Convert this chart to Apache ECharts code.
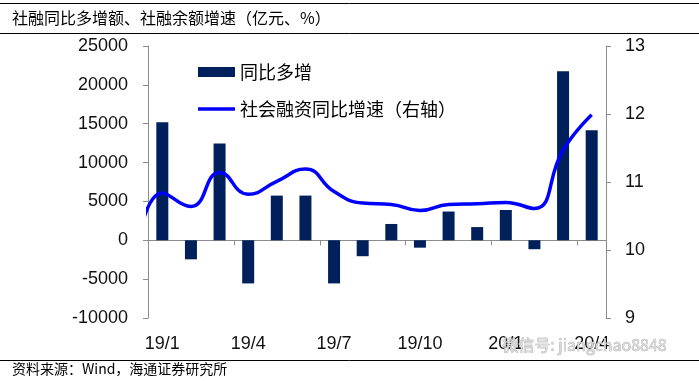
<!DOCTYPE html>
<html>
<head>
<meta charset="utf-8">
<script src="https://cdn.jsdelivr.net/npm/echarts@6/dist/echarts.min.js"></script>
<style>
html,body{margin:0;padding:0;background:#fff;}
#chart{width:699px;height:381px;}
</style>
</head>
<body>
<div id="chart"></div>
<script>
// ---- data ----
var categories = ['19/1','19/2','19/3','19/4','19/5','19/6','19/7','19/8','19/9','19/10','19/11','19/12','20/1','20/2','20/3','20/4'];
var barValues = [15200, -2450, 12450, -5550, 5750, 5750, -5550, -2050, 2100, -950, 3700, 1700, 3900, -1150, 21750, 14150];
// line categories include the (clipped) preceding month visible at the left edge
var lineCategories = ['18/12','19/1','19/2','19/3','19/4','19/5','19/6','19/7','19/8','19/9','19/10','19/11','19/12','20/1','20/2','20/3','20/4'];
var lineValues = [9.7, 10.84, 10.64, 11.14, 10.82, 11.01, 11.19, 10.86, 10.69, 10.67, 10.58, 10.67, 10.68, 10.70, 10.61, 11.47, 11.99];
var leftTicks = [-10000, -5000, 0, 5000, 10000, 15000, 20000, 25000];
var rightTicks = [9, 10, 11, 12, 13];
var titleText = '社融同比多增额、社融余额增速（亿元、%）';
var sourceText = '资料来源：Wind，海通证券研究所';
var watermarkText = '微信号: jiangchao8848';
var barName = '同比多增';
var lineName = '社会融资同比增速（右轴）';

// ---- chart ----
var chart = echarts.init(document.getElementById('chart'), null, {renderer: 'canvas'});
var cjk = '"Noto Sans CJK SC", sans-serif';
var latin = '"Liberation Sans", Arial, sans-serif';
var axisGray = '#8c8c8c';

// positions for line points on a hidden value axis: category i sits at i + 0.5
var lineData = lineValues.map(function (v, k) {
  var idx = categories.indexOf(lineCategories[k]);
  if (idx < 0) idx = -1; // month before first category
  return [idx + 0.5, v];
});

var option = {
  animation: false,
  backgroundColor: '#fff',
  grid: {left: 148, right: 93, top: 46, bottom: 63, containLabel: false},
  legend: {
    orient: 'vertical',
    left: 193,
    top: 58,
    itemWidth: 37,
    itemHeight: 10,
    itemGap: 19,
    symbolKeepAspect: true,
    textStyle: {fontFamily: cjk, fontSize: 18, color: '#000'},
    data: [
      {name: barName, icon: 'rect'},
      {name: lineName, icon: 'path://M0,0 L37,0 L37,3.5 L0,3.5 Z'}
    ]
  },
  xAxis: [
    {
      type: 'category',
      data: categories,
      position: 'bottom',
      axisLine: {show: true, onZero: true, onZeroAxisIndex: 0, lineStyle: {color: axisGray, width: 1}},
      axisTick: {show: true, interval: 2, length: 5, inside: false, lineStyle: {color: axisGray}},
      axisLabel: {show: false},
      splitLine: {show: false}
    },
    {
      type: 'category',
      data: categories,
      position: 'bottom',
      axisLine: {show: false, onZero: false},
      axisTick: {show: false},
      axisLabel: {show: true, interval: 2, margin: 17, fontFamily: latin, fontSize: 18, color: '#111'},
      splitLine: {show: false}
    },
    {
      type: 'value',
      min: 0,
      max: categories.length,
      show: false
    }
  ],
  yAxis: [
    {
      type: 'value',
      position: 'left',
      min: leftTicks[0],
      max: leftTicks[leftTicks.length - 1],
      interval: leftTicks[1] - leftTicks[0],
      axisLine: {show: true, lineStyle: {color: axisGray}},
      axisTick: {show: true, length: 5, lineStyle: {color: axisGray}},
      axisLabel: {margin: 20, fontFamily: latin, fontSize: 18, color: '#111', formatter: function (v) { return String(v); }},
      splitLine: {show: false}
    },
    {
      type: 'value',
      position: 'right',
      min: rightTicks[0],
      max: rightTicks[rightTicks.length - 1],
      interval: rightTicks[1] - rightTicks[0],
      axisLine: {show: true, lineStyle: {color: axisGray}},
      axisTick: {show: true, length: 5, lineStyle: {color: axisGray}},
      axisLabel: {margin: 19, fontFamily: latin, fontSize: 18, color: '#111'},
      splitLine: {show: false}
    }
  ],
  series: [
    {
      name: barName,
      type: 'bar',
      xAxisIndex: 0,
      yAxisIndex: 0,
      data: barValues,
      barWidth: 12,
      itemStyle: {color: '#00205B'}
    },
    {
      name: lineName,
      type: 'line',
      xAxisIndex: 2,
      yAxisIndex: 1,
      data: lineData,
      smooth: 0.5,
      symbol: 'none',
      clip: true,
      lineStyle: {color: '#0000FF', width: 3.5},
      itemStyle: {color: '#0000FF'}
    }
  ],
  graphic: [
    {type: 'line', shape: {x1: 0, y1: 3.5, x2: 699, y2: 3.5}, style: {stroke: '#000', lineWidth: 1}, z: 10},
    {type: 'line', shape: {x1: 0, y1: 33.5, x2: 699, y2: 33.5}, style: {stroke: '#000', lineWidth: 1}, z: 10},
    {type: 'line', shape: {x1: 0, y1: 360.5, x2: 699, y2: 360.5}, style: {stroke: '#000', lineWidth: 1}, z: 10},
    {type: 'text', left: 12, top: 10, style: {text: titleText, font: '16px ' + cjk, fill: '#000'}, z: 10},
    {type: 'text', left: 12, top: 362, style: {text: sourceText, font: '14px ' + cjk, fill: '#000'}, z: 10},
    {type: 'text', left: 502, top: 337, style: {text: watermarkText, font: '16px ' + cjk, fill: '#d8d8d8', stroke: '#9a9a9a', lineWidth: 0.5}, z: 20}
  ]
};
chart.setOption(option);
</script>
</body>
</html>
